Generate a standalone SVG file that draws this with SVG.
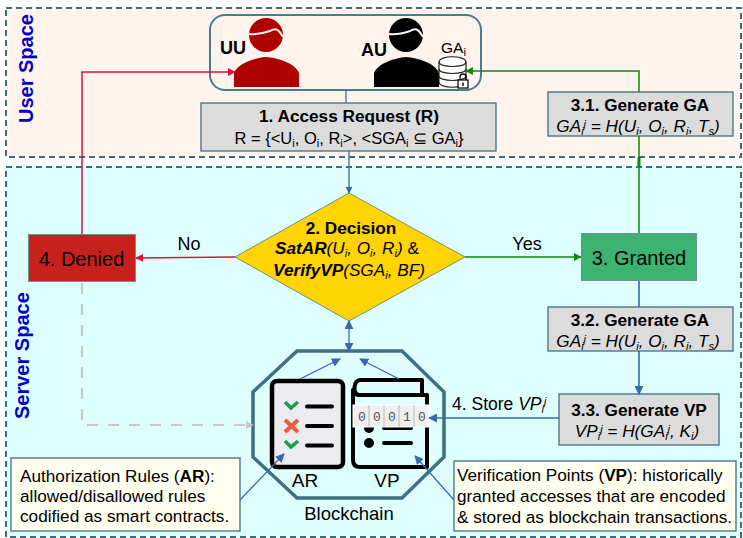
<svg xmlns="http://www.w3.org/2000/svg" width="743" height="538" viewBox="0 0 743 538">
<defs>
<style>
text{font-family:"Liberation Sans",Arial,sans-serif;fill:#000}
.space{stroke:#3d6b7f;stroke-width:2;stroke-dasharray:6 4}
.box{fill:#dcdcdc;stroke:#3f6f80;stroke-width:1.3}
.note{fill:#fffff0;stroke:#3f6f80;stroke-width:1.3}
.t{font-size:16.5px;text-anchor:middle}
.d{font-size:17.2px;text-anchor:middle}
.b{font-size:17.2px;font-weight:bold;text-anchor:middle}
.f{font-size:17.2px;font-style:italic;text-anchor:middle}
.n{font-size:17.2px}
.blue{fill:none;stroke:#3a68ad;stroke-width:1.3}
.blue2{fill:none;stroke:#3a68ad;stroke-width:1.6}
.red{fill:none;stroke:#e0103c;stroke-width:1.5}
.green{fill:none;stroke:#0a8a0a;stroke-width:1.5}
.icon{fill:none;stroke:#000;stroke-width:4;stroke-linecap:round;stroke-linejoin:round}
.sub{font-size:11px}
.dig{font-family:"Liberation Mono",monospace;font-size:13px;fill:#555;text-anchor:middle}
</style>
<marker id="ab" viewBox="0 0 10 10" refX="9" refY="5" markerWidth="7" markerHeight="7" orient="auto-start-reverse" markerUnits="userSpaceOnUse"><path d="M0 0L10 5L0 10z" fill="#3a68ad"/></marker>
<marker id="ab2" viewBox="0 0 10 10" refX="9" refY="5" markerWidth="9" markerHeight="9" orient="auto-start-reverse" markerUnits="userSpaceOnUse"><path d="M0 0L10 5L0 10z" fill="#3a68ad"/></marker>
<marker id="ar" viewBox="0 0 10 10" refX="9" refY="5" markerWidth="8" markerHeight="8" orient="auto" markerUnits="userSpaceOnUse"><path d="M0 0L10 5L0 10z" fill="#e0103c"/></marker>
<marker id="ag" viewBox="0 0 10 10" refX="9" refY="5" markerWidth="8" markerHeight="8" orient="auto" markerUnits="userSpaceOnUse"><path d="M0 0L10 5L0 10z" fill="#0a8a0a"/></marker>
<marker id="ax" viewBox="0 0 10 10" refX="9" refY="5" markerWidth="8" markerHeight="8" orient="auto" markerUnits="userSpaceOnUse"><path d="M0 0L10 5L0 10z" fill="#c8c8c8"/></marker>
</defs>

<g id="user-space">
<rect x="6" y="8" width="735" height="149" fill="#fff3ee" class="space"/>
<text transform="translate(33,123) rotate(-90)" font-size="20" font-weight="bold" style="fill:#0000cc">User Space</text>
</g>
<g id="server-space">
<rect x="6" y="167" width="735" height="370" fill="#dfffff" class="space"/>
<text transform="translate(29,419) rotate(-90)" font-size="20" font-weight="bold" style="fill:#0000cc">Server Space</text>
</g>

<g id="users">
<rect x="210" y="15" width="271" height="75" rx="15" fill="#fff3ee" stroke="#4a7c90" stroke-width="2"/>
<g id="uu" fill="#ad0000">
<circle cx="266" cy="35" r="17"/>
<path d="M234 87V73C238 63 255 58 266 57C278 58 295 63 299 73V87z"/>
<path d="M249 34C257 35 264 33 270 31C275 28 278 28 283 37" fill="none" stroke="#fff3ee" stroke-width="2"/>
<text x="220" y="54" font-size="18" font-weight="bold">UU</text>
</g>
<g id="au" fill="#000">
<circle cx="406" cy="35" r="17"/>
<path d="M374 87V73C378 63 395 58 406 57C418 58 435 63 439 73V87z"/>
<path d="M389 34C397 35 404 33 410 31C415 28 418 28 423 37" fill="none" stroke="#fff3ee" stroke-width="2"/>
<text x="361" y="56" font-size="18" font-weight="bold">AU</text>
</g>
<g id="ga-store">
<text x="441" y="53" font-size="15.500">GA<tspan class="sub" dy="3">i</tspan></text>
<path d="M439 62C439 55 466 55 466 62V82C466 89 439 89 439 82z" fill="#fff" stroke="#222" stroke-width="1.200"/>
<path d="M439 62C439 68 466 68 466 62M439 69C439 75 466 75 466 69M439 76C439 82 466 82 466 76" fill="none" stroke="#222" stroke-width="1.200"/>
<rect x="458" y="80" width="10" height="8" fill="#fff" stroke="#111" stroke-width="1.300"/>
<path d="M460 80V77C460 73 466 73 466 77V80" fill="none" stroke="#111" stroke-width="1.300"/>
<rect x="462.300" y="82.500" width="1.500" height="3.500" fill="#111"/>
</g>
</g>

<g id="access-request">
<rect class="box" x="201" y="103" width="295" height="48"/>
<text class="b" x="349" y="122">1. Access Request (R)</text>
<text class="t" x="349" y="144">R = {&lt;U<tspan class="sub" dy="3">i</tspan><tspan dy="-3">, O</tspan><tspan class="sub" dy="3">i</tspan><tspan dy="-3">, R</tspan><tspan class="sub" dy="3">i</tspan><tspan dy="-3">&gt;, &lt;SGA</tspan><tspan class="sub" dy="3">i</tspan><tspan dy="-3"> ⊆ GA</tspan><tspan class="sub" dy="3">i</tspan><tspan dy="-3">}</tspan></text>
</g>

<g id="generate-ga-1">
<rect class="box" x="548" y="92" width="185" height="44"/>
<text class="b" x="640" y="111">3.1. Generate GA</text>
<text class="f" x="638" y="132">GA<tspan class="sub" dy="3">i</tspan><tspan class="sub" dy="-7">j</tspan><tspan dy="4"> = H(U</tspan><tspan class="sub" dy="3">i</tspan><tspan dy="-3">, O</tspan><tspan class="sub" dy="3">i</tspan><tspan dy="-3">, R</tspan><tspan class="sub" dy="3">i</tspan><tspan dy="-3">, T</tspan><tspan class="sub" dy="3">s</tspan><tspan dy="-3">)</tspan></text>
</g>

<g id="decision">
<path d="M349 193L465 257L349 321L235 257z" fill="#ffd400" stroke="#6f8f80" stroke-width="1"/>
<text class="b" x="351" y="234">2. Decision</text>
<text class="d" x="347" y="254"><tspan font-weight="bold" font-style="italic">SatAR</tspan><tspan font-style="italic">(U</tspan><tspan class="sub" font-style="italic" dy="3">i</tspan><tspan font-style="italic" dy="-3">, O</tspan><tspan class="sub" font-style="italic" dy="3">i</tspan><tspan font-style="italic" dy="-3">, R</tspan><tspan class="sub" font-style="italic" dy="3">i</tspan><tspan font-style="italic" dy="-3">)</tspan> &amp;</text>
<text class="d" x="349" y="276"><tspan font-weight="bold" font-style="italic">VerifyVP</tspan><tspan font-style="italic">(SGA</tspan><tspan class="sub" font-style="italic" dy="3">i</tspan><tspan font-style="italic" dy="-3">, BF)</tspan></text>
</g>

<g id="denied">
<rect x="28.500" y="234.500" width="107" height="47" fill="#c8201c" stroke="#6f8f90" stroke-width="1"/>
<text x="81.500" y="266" font-size="20" text-anchor="middle">4. Denied</text>
</g>
<text x="189" y="250" font-size="18" text-anchor="middle">No</text>
<text x="527" y="250" font-size="18" text-anchor="middle">Yes</text>

<g id="granted">
<rect x="581.500" y="233.500" width="115" height="47" fill="#3cb371" stroke="#6f8f90" stroke-width="1"/>
<text x="639" y="265" font-size="20" text-anchor="middle">3. Granted</text>
</g>

<g id="generate-ga-2">
<rect class="box" x="548" y="307" width="185" height="44"/>
<text class="b" x="640" y="326">3.2. Generate GA</text>
<text class="f" x="638" y="347">GA<tspan class="sub" dy="3">i</tspan><tspan class="sub" dy="-7">j</tspan><tspan dy="4"> = H(U</tspan><tspan class="sub" dy="3">i</tspan><tspan dy="-3">, O</tspan><tspan class="sub" dy="3">i</tspan><tspan dy="-3">, R</tspan><tspan class="sub" dy="3">i</tspan><tspan dy="-3">, T</tspan><tspan class="sub" dy="3">s</tspan><tspan dy="-3">)</tspan></text>
</g>

<g id="generate-vp">
<rect class="box" x="559" y="394" width="160" height="51"/>
<text class="b" x="639" y="416">3.3. Generate VP</text>
<text class="f" x="637" y="437">VP<tspan class="sub" dy="3">i</tspan><tspan class="sub" dy="-7">j</tspan><tspan dy="4"> = H(GA</tspan><tspan class="sub" dy="3">i</tspan><tspan class="sub" dy="-7">j</tspan><tspan dy="4">, K</tspan><tspan class="sub" dy="3">i</tspan><tspan dy="-3">)</tspan></text>
</g>

<text x="452" y="410" font-size="17.500">4. Store <tspan font-style="italic">VP</tspan><tspan class="sub" font-style="italic" dy="3">i</tspan><tspan class="sub" font-style="italic" dy="-8">j</tspan></text>

<g id="blockchain">
<path d="M297 351H402L444 392V457L402 498H297L253 457V392z" fill="#dfffff" stroke="#3f6f80" stroke-width="3.500"/>
<g id="ar-icon">
<rect x="272" y="381" width="71" height="86" rx="5" fill="#ececf0" stroke="#000" stroke-width="4.500"/>
<path d="M285 402L291 408L298 402M285 441L291 447L298 441" fill="none" stroke="#18a050" stroke-width="3.500"/>
<path d="M285 420L298 432M298 420L285 432" fill="none" stroke="#f05a40" stroke-width="4"/>
<path d="M307 406.500H332M307 426H332M307 445.500H332" class="icon"/>
</g>
<g id="vp-icon">
<path d="M358 395C353 393 353 381 360 380H422V395" fill="#dfffff" class="icon"/>
<path d="M353 390V460C353 465 356 467 360 467H427V395H360C356 395 354 393 353 390z" fill="#dfffff" class="icon"/>
<circle cx="369" cy="428" r="5" fill="#000"/>
<circle cx="369" cy="443" r="5" fill="#000"/>
<path d="M384 428H411M384 443H411" class="icon"/>
<rect x="353" y="405" width="76" height="22" fill="#efefef" stroke="#fff" stroke-width="1"/>
<path d="M369 405V427M384 405V427M399 405V427M414 405V427" stroke="#bbb" stroke-width="1"/>
<text class="dig" x="362" y="421">0</text>
<text class="dig" x="377" y="421">0</text>
<text class="dig" x="392" y="421">0</text>
<text class="dig" x="407" y="421">1</text>
<text class="dig" x="422" y="421">0</text>
</g>
<text x="305" y="487" font-size="19" text-anchor="middle">AR</text>
<text x="387" y="487" font-size="19" text-anchor="middle">VP</text>
<text x="349" y="520" font-size="18.500" text-anchor="middle">Blockchain</text>
</g>

<g id="ar-note">
<rect class="note" x="11" y="458" width="229" height="73"/>
<text class="n" x="20" y="482">Authorization Rules (<tspan font-weight="bold">AR</tspan>):</text>
<text class="n" x="20" y="502">allowed/disallowed rules</text>
<text class="n" x="20" y="522">codified as smart contracts.</text>
</g>
<g id="vp-note">
<rect class="note" x="454" y="461" width="282" height="70"/>
<text class="n" x="457" y="481">Verification Points (<tspan font-weight="bold">VP</tspan>): historically</text>
<text class="n" x="457" y="502">granted accesses that are encoded</text>
<text class="n" x="457" y="523">&amp; stored as blockchain transactions.</text>
</g>

<g id="connectors">
<path class="blue" d="M346 90V103"/>
<path class="blue" d="M349 151V193" marker-end="url(#ab)"/>
<path class="blue" d="M349 321V351" marker-start="url(#ab2)" marker-end="url(#ab2)"/>
<path class="red" d="M82 234V72H235" marker-end="url(#ar)"/>
<path class="red" d="M235 257L136 258" marker-end="url(#ar)"/>
<path class="green" d="M465 257H581" marker-end="url(#ag)"/>
<path class="green" d="M639 233V136"/>
<path class="green" d="M639 92V71H466" marker-end="url(#ag)"/>
<path d="M639 157V167" stroke="#0a8a0a" stroke-width="3" fill="none"/>
<path class="blue2" d="M639 281V307"/>
<path class="blue2" d="M639 351V394" marker-end="url(#ab2)"/>
<path class="blue" d="M559 418H429" marker-end="url(#ab2)"/>
<path d="M82 283V425H253" fill="none" stroke="#c8c8c8" stroke-width="2.200" stroke-dasharray="11 10" marker-end="url(#ax)"/>
<path class="blue" d="M300 379L340 359" marker-end="url(#ab2)"/>
<path class="blue" d="M399 379L360 359" marker-end="url(#ab2)"/>
<path class="blue" d="M240 500L284 454" marker-end="url(#ab2)"/>
<path class="blue" d="M454 500L415 456" marker-end="url(#ab2)"/>
</g>
</svg>
